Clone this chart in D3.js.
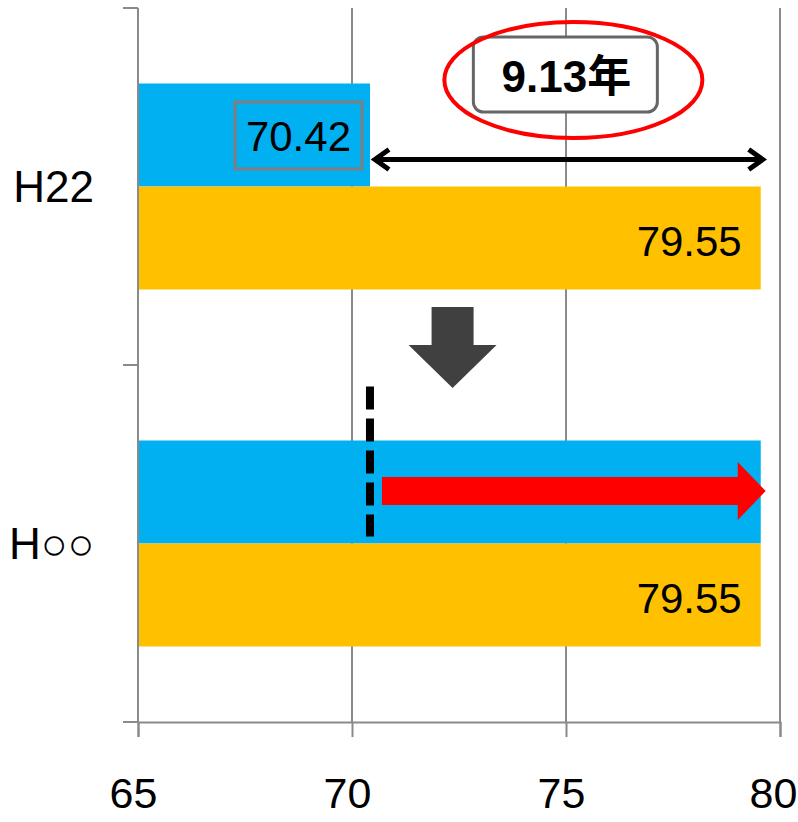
<!DOCTYPE html>
<html>
<head>
<meta charset="utf-8">
<script src="https://cdn.jsdelivr.net/npm/d3@7"></script>
<style>
  html, body { margin: 0; padding: 0; background: #fff; }
  svg { display: block; }
</style>
</head>
<body>
<svg id="chart" width="798" height="822"></svg>
<script>
// Categories (top to bottom) and the two series per category
const categories = ["H22", "H○○"];
const seriesKeys = ["blue", "orange"];
const blueValues = [70.42, 79.55];
const orangeValues = [79.55, 79.55];
const xTicks = [65, 70, 75, 80];

const colors = { blue: "#00B0F0", orange: "#FFC000" };
const gridColor = "#8a8a8a";

const svg = d3.select("#chart");
const plot = { left: 138, right: 780, top: 8, bottom: 722 };

const x = d3.scaleLinear().domain([65, 80]).range([plot.left, plot.right]);
const yCat = d3.scaleBand().domain(categories).range([plot.top, plot.bottom]).padding(0);
const ySer = d3.scaleBand().domain(seriesKeys).range([0, yCat.bandwidth()])
  .paddingInner(0).paddingOuter(0.733);

const rows = categories.map((c, i) => ({ cat: c, blue: blueValues[i], orange: orangeValues[i] }));

// Vertical gridlines
svg.append("g").selectAll("line")
  .data(xTicks.filter(t => t > 65))
  .join("line")
  .attr("x1", d => x(d)).attr("x2", d => x(d))
  .attr("y1", plot.top).attr("y2", plot.bottom)
  .attr("stroke", gridColor).attr("stroke-width", 2);

// Bars
const barG = svg.append("g");
rows.forEach(r => {
  seriesKeys.forEach(k => {
    barG.append("rect")
      .attr("x", x(65))
      .attr("y", yCat(r.cat) + ySer(k))
      .attr("width", x(r[k]) - x(65))
      .attr("height", ySer.bandwidth())
      .attr("fill", colors[k]);
  });
});

// Category axis (ticks at category boundaries)
const catAxis = svg.append("g");
catAxis.append("line")
  .attr("x1", plot.left).attr("x2", plot.left)
  .attr("y1", plot.top).attr("y2", plot.bottom)
  .attr("stroke", gridColor).attr("stroke-width", 2);
const boundaries = categories.map(c => yCat(c)).concat([yCat(categories[categories.length - 1]) + yCat.bandwidth()]);
catAxis.selectAll("line.tick").data(boundaries).join("line")
  .attr("class", "tick")
  .attr("x1", plot.left - 15).attr("x2", plot.left)
  .attr("y1", d => d).attr("y2", d => d)
  .attr("stroke", gridColor).attr("stroke-width", 2);
catAxis.selectAll("text").data(categories).join("text")
  .attr("x", plot.left - 44)
  .attr("y", d => yCat(d) + yCat.bandwidth() / 2)
  .attr("text-anchor", "end")
  .attr("dominant-baseline", "central")
  .attr("font-family", "'Liberation Sans', Arial, 'Noto Sans CJK JP', sans-serif")
  .attr("font-size", 44)
  .attr("fill", "#000")
  .text(d => d);

// Value axis at the bottom
const xAxis = d3.axisBottom(x).tickValues(xTicks).tickSize(15).tickPadding(40).tickFormat(d3.format("d"));
const xg = svg.append("g").attr("transform", `translate(0,${plot.bottom})`).call(xAxis);
xg.select(".domain").attr("stroke", gridColor).attr("stroke-width", 2);
xg.selectAll(".tick line").attr("stroke", gridColor).attr("stroke-width", 2);
xg.selectAll(".tick text")
  .attr("font-family", "'Liberation Sans', Arial, sans-serif")
  .attr("font-size", 43)
  .attr("dx", -5)
  .attr("fill", "#000");
// keep the last label inside the page edge
xg.selectAll(".tick text").filter(d => d === 80).attr("dx", -7);

const labelFont = "'Liberation Sans', Arial, sans-serif";

// Orange value labels, right-aligned inside the bars
rows.forEach(r => {
  svg.append("text")
    .attr("x", x(r.orange) - 19)
    .attr("y", yCat(r.cat) + ySer("orange") + ySer.bandwidth() / 2 + 3)
    .attr("text-anchor", "end")
    .attr("dominant-baseline", "central")
    .attr("font-family", labelFont)
    .attr("font-size", 42)
    .attr("fill", "#000")
    .text(d3.format(".2f")(r.orange));
});

// Boxed label for the shorter blue bar
const r0 = rows[0];
const boxCy = yCat(r0.cat) + ySer("blue") + ySer.bandwidth() / 2;
const boxRight = x(r0.blue) - 8;
svg.append("rect")
  .attr("x", boxRight - 127).attr("y", boxCy - 33)
  .attr("width", 127).attr("height", 67)
  .attr("fill", "none").attr("stroke", "#7f7f7f").attr("stroke-width", 3);
svg.append("text")
  .attr("x", boxRight - 63.5).attr("y", boxCy + 2)
  .attr("text-anchor", "middle")
  .attr("dominant-baseline", "central")
  .attr("font-family", labelFont)
  .attr("font-size", 42)
  .attr("fill", "#000")
  .text(d3.format(".2f")(r0.blue));

// Double-headed arrow spanning the gap between the two values
const gapY = yCat(r0.cat) + ySer("orange") - 27;
const xa = x(r0.blue) + 3, xb = x(r0.orange) + 4;
svg.append("line")
  .attr("x1", xa + 2).attr("x2", xb - 2).attr("y1", gapY).attr("y2", gapY)
  .attr("stroke", "#000").attr("stroke-width", 5);
svg.append("path")
  .attr("d", `M${xa + 16},${gapY - 10} L${xa + 2},${gapY} L${xa + 16},${gapY + 10}`)
  .attr("fill", "none").attr("stroke", "#000").attr("stroke-width", 5).attr("stroke-linejoin", "miter");
svg.append("path")
  .attr("d", `M${xb - 16},${gapY - 10} L${xb - 2},${gapY} L${xb - 16},${gapY + 10}`)
  .attr("fill", "none").attr("stroke", "#000").attr("stroke-width", 5).attr("stroke-linejoin", "miter");

// Difference callout: rounded box inside a red ellipse
const diff = r0.orange - r0.blue;
const midX = x((r0.blue + r0.orange) / 2);
svg.append("rect")
  .attr("x", midX - 92).attr("y", 37)
  .attr("width", 184).attr("height", 75)
  .attr("rx", 10).attr("ry", 10)
  .attr("fill", "#fff").attr("stroke", "#666").attr("stroke-width", 3);
svg.append("text")
  .attr("x", midX + 1).attr("y", 76)
  .attr("text-anchor", "middle")
  .attr("dominant-baseline", "central")
  .attr("font-family", "'Liberation Sans', 'Noto Sans CJK JP', sans-serif")
  .attr("font-weight", "bold")
  .attr("font-size", 44)
  .attr("fill", "#000")
  .text(d3.format(".2f")(diff) + "年");
svg.append("ellipse")
  .attr("cx", midX + 8).attr("cy", 80)
  .attr("rx", 129).attr("ry", 58)
  .attr("fill", "none").attr("stroke", "#ff0000").attr("stroke-width", 4);

// Down arrow between the two categories
const ax = x(72.35);
const ay = yCat(categories[1]) - 58;
svg.append("path")
  .attr("d", `M${ax - 21},${ay} L${ax + 21},${ay} L${ax + 21},${ay + 38} L${ax + 44},${ay + 38} L${ax},${ay + 81} L${ax - 44},${ay + 38} L${ax - 21},${ay + 38} Z`)
  .attr("fill", "#404040");

// Dashed marker at the earlier value in the second category
const r1 = rows[1];
const c1 = yCat(r1.cat);
svg.append("line")
  .attr("x1", x(r0.blue)).attr("x2", x(r0.blue))
  .attr("y1", c1 + ySer("blue") - 54).attr("y2", c1 + ySer("orange") - 7)
  .attr("stroke", "#000").attr("stroke-width", 8).attr("stroke-dasharray", "23 9");

// Red arrow showing the extension to the new value
const ry = c1 + ySer("blue") + ySer.bandwidth() / 2 - 1;
const rx0 = x(r0.blue) + 12, rx1 = x(r1.blue) + 5;
svg.append("path")
  .attr("d", `M${rx0},${ry - 14} L${rx1 - 28},${ry - 14} L${rx1 - 28},${ry - 29} L${rx1},${ry} L${rx1 - 28},${ry + 29} L${rx1 - 28},${ry + 14} L${rx0},${ry + 14} Z`)
  .attr("fill", "#ff0000");
</script>
</body>
</html>
